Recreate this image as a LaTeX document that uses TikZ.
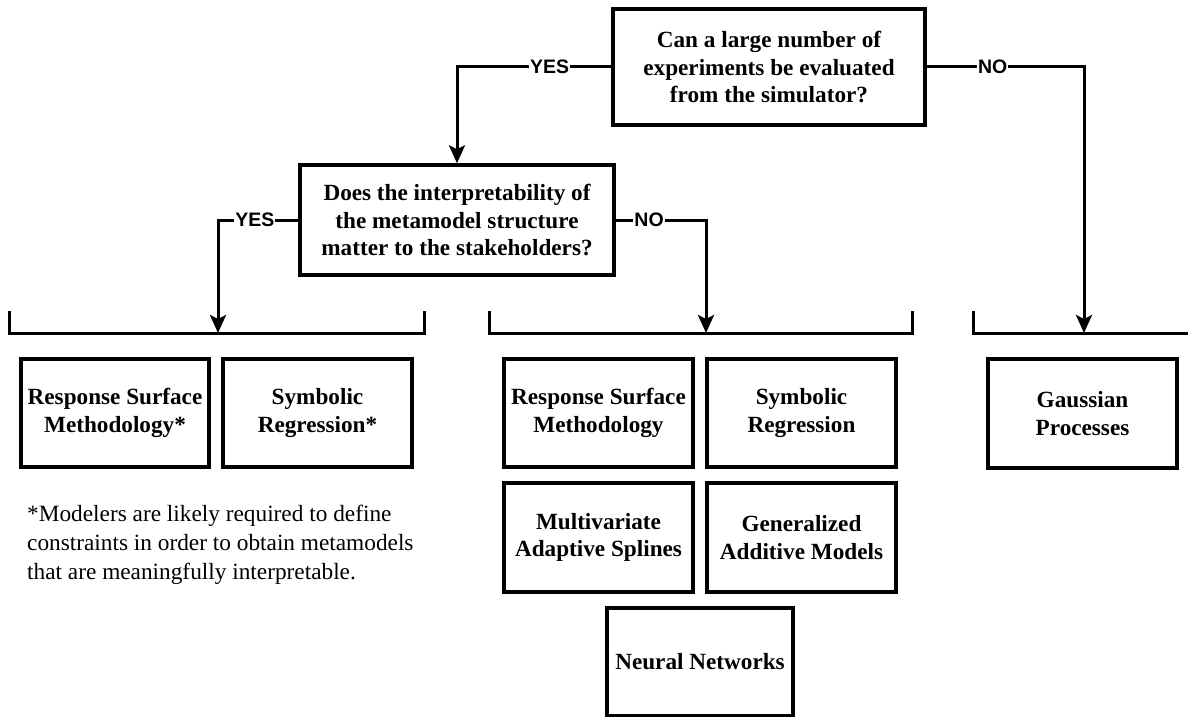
\documentclass[tikz,border=0pt]{standalone}
\usepackage{fontspec}
\setmainfont{Liberation Serif}
\newfontfamily\lblfont{Liberation Sans}
\usetikzlibrary{arrows.meta}
\tikzset{
  box/.style={draw, line width=3.4pt, align=center, inner sep=0pt,
    font=\bfseries\fontsize{23.2}{27.5}\selectfont},
  qbox/.style={box},
  conn/.style={line width=3pt},
  arr/.style={conn, -{Stealth[length=18pt,width=16pt,inset=4pt]}},
  brk/.style={line width=3pt, line cap=butt},
  lbl/.style={fill=white, inner sep=1pt, font=\lblfont\bfseries\fontsize{19.5}{19.5}\selectfont},
  note/.style={align=left, inner sep=0pt, anchor=north west,
    font=\fontsize{23.3}{29}\selectfont}
}
\begin{document}
\begin{tikzpicture}[x=1pt,y=-1pt]
\useasboundingbox[fill=white] (0,0) rectangle (1188,717);

% questions
\node[qbox, minimum width=312, minimum height=116] (q1) at (769,67)
  {Can a large number of\\experiments be evaluated\\from the simulator?};
\node[qbox, minimum width=314, minimum height=110] (q2) at (457,220)
  {Does the interpretability of\\the metamodel structure\\matter to the stakeholders?};

% brackets (coordinates)
\coordinate (b1l) at (9,333);   \coordinate (b1r) at (424,333);
\coordinate (b2l) at (489,333); \coordinate (b2r) at (912,333);
\coordinate (b3l) at (973,333); \coordinate (b3r) at (1188,333);
\coordinate (t1) at (218,333);
\coordinate (t2) at (706,333);
\coordinate (t3) at (1084,333);

\draw[brk] ([yshift=22]b1l) -- (b1l) -- (b1r) -- ([yshift=22]b1r);
\draw[brk] ([yshift=22]b2l) -- (b2l) -- (b2r) -- ([yshift=22]b2r);
\draw[brk] ([yshift=22]b3l) -- (b3l) -- (b3r);

% result boxes
\node[box, minimum width=188, minimum height=108] (rsm1) at (115,413)
  {Response Surface\\Methodology*};
\node[box, minimum width=189, minimum height=108] (sr1) at (317.5,413)
  {Symbolic\\Regression*};
\node[box, minimum width=189, minimum height=108] (rsm2) at (598.5,413)
  {Response Surface\\Methodology};
\node[box, minimum width=189, minimum height=108] (sr2) at (801.5,413)
  {Symbolic\\Regression};
\node[box, minimum width=189, minimum height=109] (mas) at (598.5,537.5)
  {Multivariate\\Adaptive Splines};
\node[box, minimum width=189, minimum height=109] (gam) at (801.5,537.5)
  {Generalized\\Additive Models};
\node[box, minimum width=186, minimum height=108] (nn) at (700,662)
  {Neural Networks};
\node[box, minimum width=189, minimum height=109] (gp) at (1082.5,413.5)
  {Gaussian\\Processes};

% connectors
\draw[arr] (q1.west) -| (q2.north) node[lbl, pos=0.2] {YES};
\draw[arr] (q1.east) -| (t3) node[lbl, pos=0.21] {NO};
\draw[arr] (q2.west) -| (t1) node[lbl, pos=0.27] {YES};
\draw[arr] (q2.east) -| (t2) node[lbl, pos=0.185] {NO};

% footnote
\node[note] (fn) at (27,505)
  {*Modelers are likely required to define\\constraints in order to obtain metamodels\\that are meaningfully interpretable.};
\end{tikzpicture}
\end{document}
